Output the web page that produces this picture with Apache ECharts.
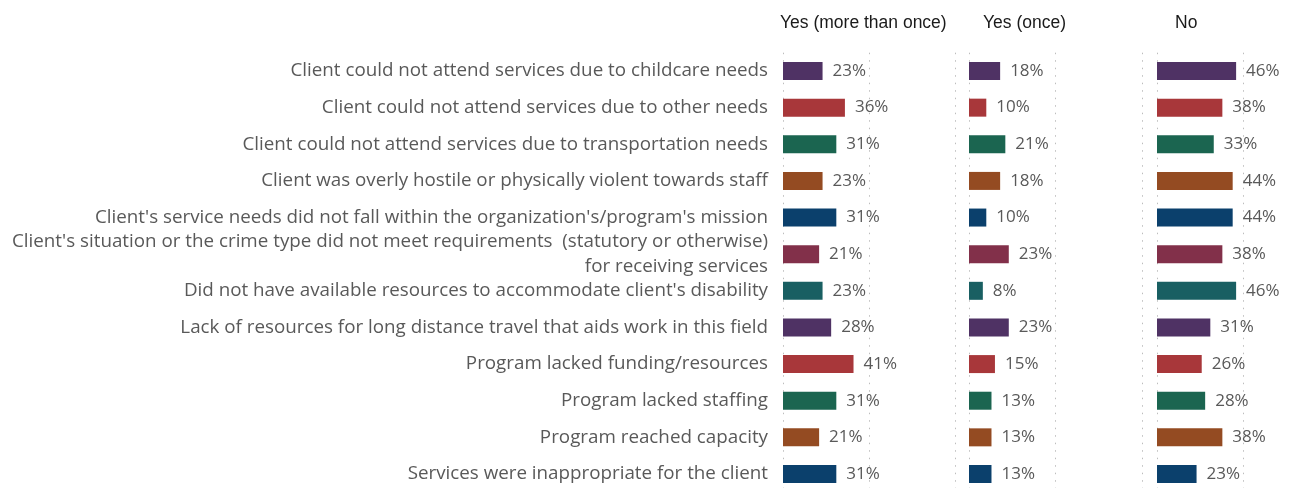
<!DOCTYPE html>
<html><head><meta charset="utf-8">
<script src="https://cdn.jsdelivr.net/npm/echarts@6/dist/echarts.min.js"></script>
<style>html,body{margin:0;padding:0;background:#fff}#c{width:1308px;height:488px}</style>
</head><body><div id="c"></div>
<script>
const categories = [
  "Client could not attend services due to childcare needs",
  "Client could not attend services due to other needs",
  "Client could not attend services due to transportation needs",
  "Client was overly hostile or physically violent towards staff",
  "Client's service needs did not fall within the organization's/program's mission",
  "Client's situation or the crime type did not meet requirements  (statutory or otherwise)\nfor receiving services",
  "Did not have available resources to accommodate client's disability",
  "Lack of resources for long distance travel that aids work in this field",
  "Program lacked funding/resources",
  "Program lacked staffing",
  "Program reached capacity",
  "Services were inappropriate for the client"
];
const panelTitles = ["Yes (more than once)", "Yes (once)", "No"];
const yesMoreThanOnce = [23, 36, 31, 23, 31, 21, 23, 28, 41, 31, 21, 31];
const yesOnce = [18, 10, 21, 18, 10, 23, 8, 23, 15, 13, 13, 13];
const no = [46, 38, 33, 44, 44, 38, 46, 31, 26, 28, 38, 23];
const rowColors = ["#4f3264", "#a8373a", "#1b6550", "#944b22", "#0b406c", "#82304a", "#195f62",
                   "#4f3264", "#a8373a", "#1b6550", "#944b22", "#0b406c"];

const chart = echarts.init(document.getElementById('c'), null, {renderer: 'canvas'});
const panels = [yesMoreThanOnce, yesOnce, no];
const lefts = [783, 969, 1157];
const widths = [172, 173, 172];
const titleLefts = [780, 983, 1175];
const gridTop = 52.7, gridHeight = 439.6;

const categoryItems = categories.map(c => c.indexOf('\n') >= 0
  ? {value: c, textStyle: {padding: [8, 0, 0, 0]}}
  : c);

const option = {
  animation: false,
  backgroundColor: '#fff',
  title: panelTitles.map((t, i) => ({
    text: t, left: titleLefts[i], top: 14, padding: 0,
    textStyle: {fontFamily: 'Liberation Sans', fontSize: 17.5, fontWeight: 'normal', color: '#1a1a1a'}
  })),
  grid: panels.map((_, i) => ({
    left: lefts[i], width: widths[i], top: gridTop, height: gridHeight,
    outerBoundsMode: 'none', containLabel: false
  })),
  xAxis: panels.map((_, i) => ({
    type: 'value', gridIndex: i, min: 0, max: 100, interval: 50,
    axisLabel: {show: false}, axisLine: {show: false}, axisTick: {show: false},
    splitLine: {show: true, lineStyle: {color: '#bdbdbd', type: [1.5, 6], width: 1}}
  })),
  yAxis: panels.map((_, i) => ({
    type: 'category', gridIndex: i, data: categoryItems, inverse: true,
    axisLine: {show: false}, axisTick: {show: false},
    axisLabel: i === 0 ? {
      show: true, margin: 15, fontFamily: 'Open Sans', fontSize: 18.8, color: '#595959',
      lineHeight: 25, align: 'right'
    } : {show: false}
  })),
  series: panels.map((vals, i) => ({
    type: 'bar', xAxisIndex: i, yAxisIndex: i, barWidth: 18,
    data: vals.map((v, j) => ({value: v, itemStyle: {color: rowColors[j]}})),
    label: {
      show: true, position: 'right', distance: 10, formatter: '{c}%',
      fontFamily: 'Open Sans', fontSize: 17, color: '#595959'
    }
  }))
};
chart.setOption(option);
</script></body></html>
